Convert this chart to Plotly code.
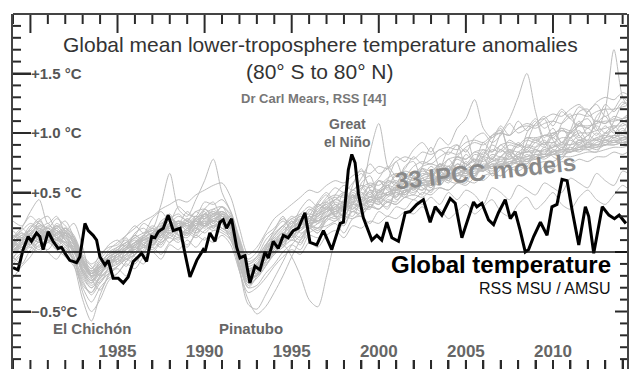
import plotly.graph_objects as go

FONT = "Liberation Sans, Arial, sans-serif"

# ---------------- data ----------------
# model runs: half-year samples from 1979.0 to 2014.5, values in 0.01 degC
model_years = [1979 + 0.5 * i for i in range(72)]
models_hundredths = [
    [0,10,22,18,8,16,20,6,-18,-28,-20,-4, -10,2,12,6,4,20,30,18,14,28,34,20, 30,26,-4,-26,-12,2,0,14,26,16,20,34, 40,30,32,48,38,36,52,56,44,50,64,54, 52,66,72,60,58,74,80,64,70,86,78,72, 84,92,80,78,90,98,86,84,96,102,92,90],
    [12,20,14,26,30,18,16,12,-4,-14,-2,4, 6,14,22,16,28,34,26,38,32,30,42,40, 44,34,12,-6,0,14,20,28,24,36,44,38, 46,54,50,58,66,56,62,72,64,70,80,74, 78,86,82,90,84,96,100,92,98,108,100,104, 112,104,110,120,112,106,118,124,114,120,130,122],
    [-4,-10,2,8,0,-6,4,-8,-24,-36,-26,-18, -14,-20,-6,-2,4,-2,8,12,6,14,10,18, 16,10,-12,-30,-28,-18,-10,0,6,2,14,12, 20,24,16,28,30,24,34,30,38,36,44,40, 46,40,50,44,52,48,40,54,50,44,56,52, 48,58,54,50,62,58,54,66,60,56,68,64],
    [10,4,16,22,14,20,10,-10,-40,-58,-36,-20, -12,-4,6,0,16,22,14,24,18,30,22,32, 26,30,6,-20,-20,-2,12,6,22,28,20,32, 38,30,44,40,50,38,48,56,46,58,54,62, 56,66,60,74,68,64,78,70,80,74,84,80, 86,82,90,86,96,88,92,100,94,98,104,96],
    [6,14,8,18,12,24,18,10,-8,-18,-12,0, 4,8,14,24,20,40,66,36,30,44,60,78, 50,34,8,-10,-4,10,18,26,20,32,26,40, 36,44,50,42,54,46,60,52,58,66,56,70, 64,72,68,80,74,70,84,78,86,80,90,84, 92,88,96,90,100,94,98,106,100,104,110,106],
    [2,6,12,8,14,10,16,0,-16,-24,-14,-10, -6,4,-2,10,6,14,22,18,26,20,28,24, 20,14,-16,-40,-52,-46,-34,-20,-4,10,20,16, 28,36,30,42,38,46,44,50,54,48,58,62, 54,64,60,70,66,74,68,78,72,82,76,86, 80,88,84,92,86,94,90,96,92,98,96,100],
    [0,8,4,12,10,6,14,8,-10,-20,-18,-6, -8,-2,8,4,10,14,8,18,24,16,22,30, 24,20,2,-14,-18,-8,0,6,-4,-20,-40,-46, -20,10,26,34,30,40,36,44,42,52,48,58, 54,62,58,66,62,70,68,74,70,80,76,82, 78,86,82,88,86,92,88,94,90,96,94,98],
    [8,2,10,16,20,12,8,0,-14,-20,-10,-4, 2,-6,6,12,8,18,24,14,20,26,22,30, 32,26,4,-16,-10,-2,8,16,12,24,30,26, 36,32,42,48,40,52,46,56,60,54,64,70, 62,74,68,80,86,76,92,84,100,112,130,150, 118,96,104,92,100,110,98,108,114,104,112,118],
    [4,10,16,12,20,16,10,4,-10,-20,-16,-10, -4,2,8,14,10,16,22,26,20,28,24,32, 30,24,2,-20,-14,-4,6,12,20,26,22,30, 34,38,36,44,50,46,52,48,56,60,58,64, 66,62,72,68,76,70,80,78,86,82,90,88, 94,90,98,104,96,108,112,102,120,170,130,118],
    [6,16,10,20,14,8,16,10,-6,-16,-8,-2, 2,8,4,14,20,12,24,20,28,22,32,26, 34,28,6,-12,-8,4,12,20,28,24,34,40, 36,48,56,52,62,74,66,70,80,76,86,92, 84,96,90,104,112,128,104,96,106,98,110,102, 108,114,106,118,112,122,116,110,124,118,126,120],
    [2,6,14,10,16,20,12,4,-14,-24,-16,-6, -2,4,10,6,16,12,20,24,18,26,30,24, 32,20,-2,-22,-16,-8,4,10,16,22,30,26, 34,40,36,46,52,84,108,72,58,54,62,58, 66,60,70,66,72,76,70,80,76,84,80,88, 86,82,92,88,94,90,98,94,100,96,102,98],
    [-8,0,6,14,8,12,6,-4,-22,-30,-22,-14, -10,-4,0,6,2,10,16,12,20,16,24,20, 26,18,-6,-22,-20,-10,-2,8,14,18,24,20, 30,28,36,34,40,38,46,42,48,50,54,52, 60,56,64,60,68,64,70,68,74,72,76,74, 80,78,82,80,86,84,88,86,90,90,92,92],
    [26,22,30,24,20,28,22,14,-2,-10,-4,6, 10,4,16,20,14,26,30,24,34,28,36,32, 38,30,10,-8,-4,6,16,22,30,26,36,32, 42,46,40,52,48,56,50,60,56,64,62,68, 66,74,70,78,74,82,80,86,84,90,88,94, 92,98,96,102,100,106,104,110,108,112,110,114],
    [-22,-12,-4,6,2,10,4,-6,-26,-34,-24,-18, -12,-6,-10,2,8,4,14,10,18,14,22,18, 24,16,-4,-24,-18,-8,2,8,16,12,22,18, 28,34,30,40,36,44,40,48,46,52,50,56, 56,62,60,66,64,70,68,72,72,76,74,78, 80,82,82,86,84,88,88,90,90,94,92,96],
    [10,20,34,44,24,30,16,8,-10,-16,-10,-4, 0,6,2,12,16,10,22,18,16,26,20,28, 26,22,0,-16,-12,-2,8,16,12,22,28,24, 30,38,42,36,46,42,50,48,54,58,52,60, 62,58,66,64,70,66,74,72,76,74,80,78, 82,80,86,84,88,86,92,90,94,92,96,94],
    [4,0,8,14,22,18,12,6,-16,-26,-18,-12, -6,-2,6,10,14,20,16,24,22,20,28,34, 30,26,2,-18,-14,-6,4,10,20,24,22,30, 38,34,40,46,44,42,50,54,52,58,56,62, 64,60,68,70,66,74,72,76,80,78,82,84, 86,84,88,92,90,94,92,96,98,96,100,98],
    [0,6,12,18,14,10,8,2,-16,-24,-18,-10, -2,2,8,12,16,20,18,26,24,30,28,32, 34,28,4,-14,-10,2,10,18,24,30,28,36, 40,44,48,46,54,58,56,62,66,64,72,76, 74,80,84,82,88,92,90,96,100,98,104,108, 106,112,116,114,120,124,118,126,130,128,134,130],
    [8,14,18,12,10,16,14,2,-14,-22,-12,-8, -4,0,2,8,10,14,22,20,16,24,22,26, 24,20,-2,-16,-12,-6,6,14,16,20,24,26, 30,32,36,40,38,44,42,48,50,48,54,56, 58,60,62,64,66,66,70,72,72,74,76,76, 78,80,82,82,84,86,86,88,90,90,92,92],
    [14,10,6,12,18,8,2,-8,-28,-34,-20,-10, -6,-12,-2,4,10,6,18,14,12,20,16,22, 20,14,-10,-28,-22,-12,0,8,14,10,20,16, 26,30,24,34,32,38,36,42,40,46,44,50, 48,54,52,58,56,62,60,66,64,70,68,72, 66,72,70,76,74,78,76,80,80,84,82,86],
    [6,0,14,20,8,22,14,10,-6,-18,-8,-2, 4,10,0,14,22,18,30,22,26,34,28,36, 38,24,-2,-20,-16,2,10,4,22,30,24,38, 42,36,50,44,56,48,60,54,66,58,68,64, 72,66,78,70,82,76,86,78,90,84,92,86, 96,90,100,92,102,96,104,98,106,100,108,102],
    [-10,-2,4,0,8,2,-4,-12,-30,-42,-30,-22, -18,-10,-14,-4,0,-6,6,2,10,4,12,8, 14,6,-16,-34,-30,-22,-12,-4,2,-2,8,4, 14,18,12,22,20,26,24,30,28,34,32,38, 30,36,28,34,40,32,38,44,34,30,40,46, 36,42,50,40,36,46,52,44,40,48,56,50],
    [12,18,24,20,16,22,18,8,-8,-16,-12,-4, 0,6,12,16,18,24,28,32,26,34,36,30, 38,32,10,-10,-6,6,14,22,28,32,38,34, 44,48,46,52,56,54,60,58,64,68,66,72, 74,72,78,80,78,84,86,84,90,92,90,96, 96,98,100,102,100,106,106,108,110,110,112,114],
    [-2,4,0,10,16,10,20,12,-4,-12,-20,-14, -8,-2,4,0,10,16,12,20,24,18,26,22, 28,22,-2,-18,-20,-8,2,12,10,18,22,20, 28,26,34,38,34,42,40,46,50,46,56,52, 58,56,64,60,68,64,72,70,74,72,80,76, 82,80,84,86,84,90,88,92,94,92,96,96],
    [18,12,20,26,18,14,20,12,-6,-18,-12,-6, 2,8,14,10,20,16,24,30,26,22,32,36, 30,24,0,-20,-16,-4,8,14,22,18,28,32, 36,42,38,48,44,52,50,56,54,62,60,66, 64,70,68,74,72,78,76,82,80,86,84,90, 88,92,92,96,96,100,100,102,104,106,106,110],
    [4,12,6,18,24,14,8,0,-18,-26,-14,-6, -2,4,14,8,6,18,26,20,16,28,22,26, 32,28,6,-16,-12,0,6,14,26,20,30,42, 50,40,34,56,70,52,44,60,76,58,52,72, 88,70,62,84,98,76,70,92,104,82,78,100, 110,92,88,108,116,98,94,114,120,102,100,118],
    [0,4,10,16,12,18,10,2,-12,-20,-14,-8, -4,2,6,10,14,18,16,20,24,26,24,28, 30,22,0,-16,-12,-4,6,12,18,22,26,28, 34,36,38,42,44,46,48,50,52,54,58,58, 60,62,64,66,68,70,70,74,74,76,78,80, 82,82,84,86,86,88,90,90,92,94,94,96],
    [10,16,8,2,12,20,26,12,-8,-20,-26,-12, -2,-8,4,12,6,14,24,20,14,22,32,26, 20,16,-6,-26,-18,-2,10,6,16,26,20,24, 32,40,34,30,44,50,42,38,52,60,54,48, 62,68,60,58,72,78,70,66,80,86,78,74, 88,94,86,82,96,102,92,88,100,106,98,94],
    [6,12,18,24,16,22,14,-4,-34,-50,-40,-24, -18,-8,-2,6,12,8,16,22,28,24,30,34, 28,30,8,-14,-10,2,14,22,16,28,32,30, 38,44,42,50,46,56,52,60,58,66,62,70, 68,74,72,80,78,84,82,90,86,94,90,96, 94,98,98,104,102,108,104,110,108,114,112,116],
    [2,8,14,10,18,12,16,6,-10,-18,-14,-6, -2,2,8,14,18,14,22,26,22,28,32,30, 34,20,-14,-44,-48,-36,-22,-8,6,14,22,26, 30,34,38,36,42,46,44,50,52,50,56,60, 60,64,66,66,70,72,72,76,78,78,82,84, 84,86,88,90,90,92,94,94,96,98,98,100],
    [-6,8,20,28,14,2,16,24,4,-22,-32,-18, 0,12,-4,-10,8,22,32,14,4,18,36,42, 24,10,-10,-30,-20,4,18,30,14,6,24,40, 48,30,22,40,58,64,44,36,54,72,76,58, 50,68,86,90,70,62,80,98,102,84,74,92, 108,112,94,86,102,118,120,104,96,110,124,126],
    [8,4,12,8,16,12,6,2,-12,-18,-12,-4, 0,4,8,10,14,18,20,20,22,22,26,26, 28,22,2,-14,-12,-4,4,10,16,20,24,26, 30,34,36,40,40,44,46,48,50,52,54,56, 58,60,62,64,64,68,68,72,72,74,76,78, 78,80,82,84,84,86,88,88,90,92,92,94],
    [4,10,16,22,20,14,18,10,-6,-14,-6,2, 8,14,20,26,30,36,40,44,42,48,52,56, 58,46,20,-2,4,16,28,34,40,46,52,50, 56,60,58,64,68,66,72,70,76,80,78,84, 82,86,88,86,92,94,92,98,100,98,104,106, 104,108,110,108,114,116,114,118,120,120,122,124],
    [-4,2,8,4,12,6,2,-6,-20,-30,-22,-16, -12,-6,-2,4,0,8,12,8,16,12,18,22, 18,12,-10,-26,-22,-12,-2,4,10,8,16,20, 22,26,30,28,34,38,36,42,40,46,48,46, 52,54,52,58,60,58,64,66,64,70,72,70, 74,76,76,80,80,82,84,84,86,88,88,90],
]

# RSS MSU/AMSU lower-troposphere anomaly (degC)
rss_years = [1979.0, 1979.29, 1979.58, 1979.87, 1980.06, 1980.35, 1980.54, 1980.73, 1981.02, 1981.3,
             1981.59, 1981.79, 1981.98, 1982.26, 1982.65, 1982.84, 1983.13, 1983.32, 1983.6, 1983.8,
             1983.99, 1984.28, 1984.47, 1984.75, 1985.04, 1985.33, 1985.61, 1985.9, 1986.19, 1986.38,
             1986.67, 1986.96, 1987.15, 1987.34, 1987.63, 1987.91, 1988.2, 1988.59, 1988.87, 1989.16,
             1989.55, 1989.92, 1990.02, 1990.3, 1990.59, 1990.88, 1991.07, 1991.26, 1991.55, 1991.84,
             1992.03, 1992.32, 1992.6, 1992.89, 1993.18, 1993.47, 1993.66, 1993.94, 1994.23, 1994.52,
             1994.8, 1995.09, 1995.38, 1995.76, 1996.05, 1996.44, 1996.82, 1997.3, 1997.78, 1997.97,
             1998.25, 1998.45, 1998.64, 1998.83, 1999.11, 1999.6, 1999.89, 2000.17, 2000.46, 2000.75,
             2001.13, 2001.52, 2001.8, 2002.18, 2002.56, 2002.95, 2003.24, 2003.62, 2004.1, 2004.39,
             2004.77, 2005.15, 2005.44, 2005.63, 2005.92, 2006.3, 2006.59, 2006.87, 2007.26, 2007.55,
             2007.83, 2008.12, 2008.41, 2008.6, 2008.89, 2009.28, 2009.66, 2009.94, 2010.23, 2010.52,
             2010.81, 2011.1, 2011.48, 2011.86, 2012.05, 2012.34, 2012.83, 2013.21, 2013.53, 2013.8,
             2014.19]
rss_values = [-0.13, -0.15, 0.02, 0.13, 0.09, 0.16, 0.13, 0.02, 0.17, 0.09,
              0.03, 0.04, -0.01, -0.07, -0.09, -0.04, 0.24, 0.18, 0.14, 0.10,
              -0.04, -0.11, -0.07, -0.22, -0.22, -0.26, -0.21, -0.08, -0.04, -0.01,
              -0.08, 0.13, 0.12, 0.17, 0.20, 0.31, 0.18, 0.20, -0.01, -0.21,
              -0.07, 0.02, 0.00, 0.16, 0.09, 0.25, 0.27, 0.20, 0.28, 0.04,
              -0.05, -0.03, -0.26, -0.12, -0.15, 0.00, -0.05, 0.09, 0.03, 0.14,
              0.12, 0.18, 0.20, 0.33, 0.08, 0.06, 0.18, 0.02, 0.24, 0.25,
              0.69, 0.82, 0.75, 0.49, 0.29, 0.10, 0.14, 0.10, 0.25, 0.12,
              0.09, 0.33, 0.34, 0.40, 0.44, 0.25, 0.38, 0.31, 0.45, 0.41,
              0.12, 0.30, 0.42, 0.38, 0.41, 0.27, 0.23, 0.33, 0.44, 0.28,
              0.34, 0.18, 0.00, 0.02, 0.13, 0.25, 0.14, 0.38, 0.40, 0.61,
              0.60, 0.35, 0.06, 0.38, 0.30, -0.01, 0.38, 0.31, 0.28, 0.31,
              0.24]

y_tick_vals = [-1.0, -0.5, 0.0, 0.5, 1.0, 1.5, 2.0]
y_tick_text = ["", "\u22120.5\u00b0C", "", "+0.5 \u00b0C", "+1.0 \u00b0C", "+1.5 \u00b0C", ""]
y_minor_ticks = [round(-1.0 + 0.1 * i, 1) for i in range(31)]
x_year_ticks = list(range(1979, 2015))
x_major_ticks = [1980, 1985, 1990, 1995, 2000, 2005, 2010]
x_year_text = [str(y) if (y % 5 == 0 and y >= 1985) else "" for y in x_year_ticks]

X_RANGE = [1979.0, 2014.25]
Y_RANGE = [-0.983, 2.0]

# plot-area size in pixels (figure 631x369, margins l13 r4 t14 b0)
PLOT_W = 631 - 13 - 4
PLOT_H = 369 - 14 - 0
PX_X = (X_RANGE[1] - X_RANGE[0]) / PLOT_W   # data units per pixel
PX_Y = (Y_RANGE[1] - Y_RANGE[0]) / PLOT_H

# ---------------- figure ----------------
fig = go.Figure()
for row in models_hundredths:
    fig.add_trace(go.Scatter(
        x=model_years, y=[v / 100.0 for v in row], mode="lines",
        line=dict(color="#bdbdbd", width=1, shape="spline", smoothing=0.8),
        hoverinfo="skip", showlegend=False))

fig.add_trace(go.Scatter(
    x=rss_years, y=rss_values, mode="lines",
    line=dict(color="#000000", width=3),
    showlegend=False))

# ---- tick marks on all four sides, built from the tick arrays ----
tx, ty = [], []
for yr in x_year_ticks:
    top_len = 19 if yr in x_major_ticks else 10
    tx += [yr, yr, None, yr, yr, None]
    ty += [Y_RANGE[0], Y_RANGE[0] + 9 * PX_Y, None,
           Y_RANGE[1] - top_len * PX_Y, Y_RANGE[1], None]
for v in y_minor_ticks:
    is_major = abs(round(v * 2) - v * 2) < 1e-6
    left_len = 18 if is_major else 8
    right_len = 12 if is_major else 7
    tx += [X_RANGE[0], X_RANGE[0] + left_len * PX_X, None,
           X_RANGE[1] - right_len * PX_X, X_RANGE[1], None]
    ty += [v, v, None, v, v, None]
fig.add_trace(go.Scatter(x=tx, y=ty, mode="lines", cliponaxis=False,
                         line=dict(color="#2a2a2a", width=2),
                         hoverinfo="skip", showlegend=False))

TICKC = "#2a2a2a"
FRAME = "#444444"

fig.update_layout(
    width=631, height=369,
    margin=dict(l=13, r=4, t=14, b=0),
    paper_bgcolor="white", plot_bgcolor="white",
    showlegend=False,
    xaxis=dict(
        range=X_RANGE, showgrid=False, zeroline=False, showline=False,
        ticks="inside", ticklen=9, tickwidth=2, tickcolor=TICKC,
        tickmode="array", tickvals=x_year_ticks, ticktext=x_year_text,
        ticklabelposition="inside",
        tickfont=dict(family=FONT, size=17, color="#666666", weight="bold")),
    yaxis=dict(
        range=Y_RANGE, showgrid=False, zeroline=False,
        showline=True, mirror=True, linecolor=FRAME, linewidth=2,
        ticks="inside", ticklen=18, tickwidth=2, tickcolor=TICKC,
        tickmode="array", tickvals=y_tick_vals, ticktext=y_tick_text,
        ticklabelposition="inside",
        tickfont=dict(family=FONT, size=15, color="#555555", weight="bold")),
)

# frame top line and zero reference line
fig.add_shape(type="line", xref="paper", yref="paper", x0=0, x1=1, y0=1, y1=1,
              line=dict(color=FRAME, width=2))
fig.add_hline(y=0, line=dict(color="#111111", width=1.5), layer="above")


def note(text, x, y, size, color, bold=False, xanchor="center", angle=0):
    fig.add_annotation(
        text=text, x=x, y=y, xref="paper", yref="paper",
        xanchor=xanchor, yanchor="middle", showarrow=False, textangle=angle,
        font=dict(family=FONT, size=size, color=color, weight="bold" if bold else "normal"))


note("Global mean lower-troposphere temperature anomalies", 0.500, 0.913, 21, "#333333")
note("(80\u00b0 S to 80\u00b0 N)", 0.500, 0.837, 21, "#333333")
note("Dr Carl Mears, RSS [44]", 0.490, 0.763, 13, "#777777", bold=True)
note("Great<br>el Ni\u00f1o", 0.544, 0.665, 14, "#6a6a6a", bold=True)
note("33 IPCC models", 0.769, 0.555, 24, "#8a8a8a", bold=True, angle=-6)
note("Global temperature", 0.977, 0.293, 24, "#000000", bold=True, xanchor="right")
note("RSS MSU / AMSU", 0.977, 0.228, 16, "#111111", xanchor="right")
note("El Chich\u00f3n", 0.129, 0.113, 15, "#666666", bold=True)
note("Pinatubo", 0.388, 0.113, 15, "#666666", bold=True)

fig.write_html("out.html")
